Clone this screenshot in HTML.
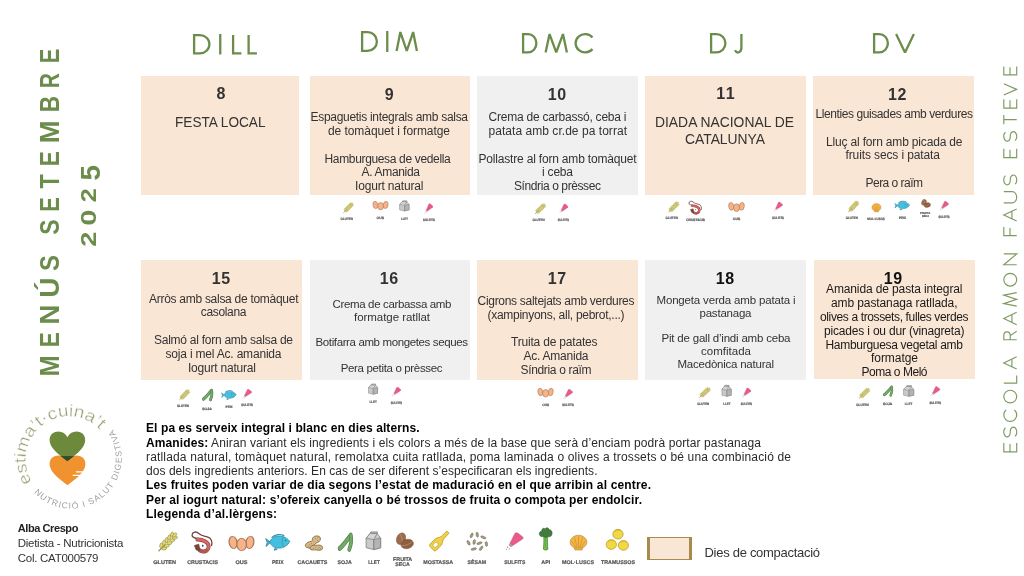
<!DOCTYPE html>
<html lang="ca"><head><meta charset="utf-8"><title>Menús setembre 2025</title>
<style>
html,body{margin:0;padding:0;background:#fff;}
body{width:1024px;height:576px;position:relative;overflow:hidden;font-family:'Liberation Sans', sans-serif;color:#333333;}
#pg{position:absolute;left:0;top:0;width:1024px;height:576px;opacity:0.999;}
.c{position:absolute;}
.t{position:absolute;white-space:nowrap;line-height:14px;font-size:12px;}
.t b{color:#000;}
.vl{position:absolute;left:0;top:0;white-space:nowrap;font-weight:bold;color:#6b8c4a;transform-origin:0 0;}
svg{position:absolute;left:0;top:0;}
</style></head><body><div id="pg">
<div class="c" style="left:141px;top:76px;width:158px;height:119px;background:#fae6d5"></div>
<div class="c" style="left:309.5px;top:76px;width:160.5px;height:119px;background:#fae6d5"></div>
<div class="c" style="left:477px;top:76px;width:160.5px;height:119px;background:#f0f0f0"></div>
<div class="c" style="left:645px;top:76px;width:160.5px;height:119px;background:#fae6d5"></div>
<div class="c" style="left:813px;top:76px;width:160.5px;height:119px;background:#fae6d5"></div>
<div class="c" style="left:141px;top:260px;width:161px;height:119.5px;background:#fae6d5"></div>
<div class="c" style="left:309.5px;top:260px;width:160.5px;height:119.5px;background:#f0f0f0"></div>
<div class="c" style="left:477px;top:260px;width:160.5px;height:119.5px;background:#fae6d5"></div>
<div class="c" style="left:645px;top:260px;width:160.5px;height:119.5px;background:#f0f0f0"></div>
<div class="c" style="left:813.5px;top:259.5px;width:161.0px;height:119.5px;background:#fae6d5"></div>
<div class="t" style="left:216.50px;top:87.46px;letter-spacing:0.594px;font-size:16px;font-weight:bold">8</div>
<div class="t" style="left:384.75px;top:87.76px;letter-spacing:0.594px;font-size:16px;font-weight:bold">9</div>
<div class="t" style="left:547.75px;top:87.76px;letter-spacing:0.703px;font-size:16px;font-weight:bold">10</div>
<div class="t" style="left:716.25px;top:87.46px;letter-spacing:1.578px;font-size:16px;font-weight:bold">11</div>
<div class="t" style="left:888.00px;top:87.76px;letter-spacing:0.703px;font-size:16px;font-weight:bold">12</div>
<div class="t" style="left:211.75px;top:271.96px;letter-spacing:0.703px;font-size:16px;font-weight:bold">15</div>
<div class="t" style="left:379.75px;top:271.96px;letter-spacing:0.703px;font-size:16px;font-weight:bold">16</div>
<div class="t" style="left:547.75px;top:271.96px;letter-spacing:0.703px;font-size:16px;font-weight:bold">17</div>
<div class="t" style="left:715.75px;top:271.96px;letter-spacing:0.703px;font-size:16px;font-weight:bold;color:#111">18</div>
<div class="t" style="left:883.75px;top:271.96px;letter-spacing:0.703px;font-size:16px;font-weight:bold;color:#111">19</div>
<div class="t" style="left:174.50px;top:115.13px;transform-origin:0 50%;transform:scaleX(0.8778);font-size:15.5px">FESTA LOCAL</div>
<div class="t" style="left:655.00px;top:114.63px;transform-origin:0 50%;transform:scaleX(0.8949);font-size:15.5px">DIADA NACIONAL DE</div>
<div class="t" style="left:685.00px;top:132.13px;transform-origin:0 50%;transform:scaleX(0.8931);font-size:15.5px">CATALUNYA</div>
<div class="t" style="left:310.50px;top:110.34px;letter-spacing:-0.296px">Espaguetis integrals amb salsa</div>
<div class="t" style="left:328.00px;top:124.09px;letter-spacing:-0.067px">de tomàquet i formatge</div>
<div class="t" style="left:324.50px;top:151.59px;letter-spacing:-0.342px">Hamburguesa de vedella</div>
<div class="t" style="left:361.50px;top:165.34px;letter-spacing:-0.319px">A. Amanida</div>
<div class="t" style="left:355.00px;top:179.09px;letter-spacing:-0.171px">Iogurt natural</div>
<div class="t" style="left:488.50px;top:110.34px;letter-spacing:-0.225px">Crema de carbassó, ceba i</div>
<div class="t" style="left:488.50px;top:124.09px;letter-spacing:0.043px">patata amb cr.de pa torrat</div>
<div class="t" style="left:478.50px;top:151.59px;letter-spacing:-0.187px">Pollastre al forn amb tomàquet</div>
<div class="t" style="left:542.00px;top:165.34px;letter-spacing:-0.206px">i ceba</div>
<div class="t" style="left:514.00px;top:179.09px;letter-spacing:-0.399px">Síndria o prèssec</div>
<div class="t" style="left:815.50px;top:106.84px;letter-spacing:-0.412px">Llenties guisades amb verdures</div>
<div class="t" style="left:826.00px;top:134.84px;letter-spacing:-0.171px">Lluç al forn amb picada de</div>
<div class="t" style="left:845.50px;top:148.34px;letter-spacing:-0.117px">fruits secs i patata</div>
<div class="t" style="left:865.50px;top:175.84px;letter-spacing:-0.520px">Pera o raïm</div>
<div class="t" style="left:149.00px;top:291.84px;letter-spacing:-0.279px">Arròs amb salsa de tomàquet</div>
<div class="t" style="left:200.75px;top:305.34px;letter-spacing:-0.328px">casolana</div>
<div class="t" style="left:154.00px;top:333.34px;letter-spacing:-0.256px">Salmó al forn amb salsa de</div>
<div class="t" style="left:165.50px;top:346.84px;letter-spacing:-0.193px">soja i mel Ac. amanida</div>
<div class="t" style="left:188.00px;top:360.84px;letter-spacing:-0.209px">Iogurt natural</div>
<div class="t" style="left:332.50px;top:297.02px;letter-spacing:-0.346px;font-size:11.5px">Crema de carbassa amb</div>
<div class="t" style="left:354.00px;top:309.77px;letter-spacing:-0.047px;font-size:11.5px">formatge ratllat</div>
<div class="t" style="left:315.50px;top:335.27px;letter-spacing:-0.376px;font-size:11.5px">Botifarra amb mongetes seques</div>
<div class="t" style="left:340.75px;top:360.77px;letter-spacing:-0.346px;font-size:11.5px">Pera petita o prèssec</div>
<div class="t" style="left:477.50px;top:293.84px;letter-spacing:-0.290px">Cigrons saltejats amb verdures</div>
<div class="t" style="left:487.50px;top:307.59px;letter-spacing:-0.276px">(xampinyons, all, pebrot,...)</div>
<div class="t" style="left:511.00px;top:335.34px;letter-spacing:-0.194px">Truita de patates</div>
<div class="t" style="left:523.50px;top:349.34px;letter-spacing:-0.237px">Ac. Amanida</div>
<div class="t" style="left:520.50px;top:363.34px;letter-spacing:-0.337px">Síndria o raïm</div>
<div class="t" style="left:656.50px;top:292.77px;letter-spacing:-0.168px;font-size:11.5px">Mongeta verda amb patata i</div>
<div class="t" style="left:699.50px;top:305.52px;letter-spacing:-0.215px;font-size:11.5px">pastanaga</div>
<div class="t" style="left:661.50px;top:331.02px;letter-spacing:-0.202px;font-size:11.5px">Pit de gall d’indi amb ceba</div>
<div class="t" style="left:701.00px;top:343.77px;letter-spacing:0.018px;font-size:11.5px">comfitada</div>
<div class="t" style="left:677.50px;top:356.52px;letter-spacing:-0.228px;font-size:11.5px">Macedònica natural</div>
<div class="t" style="left:826.00px;top:282.09px;letter-spacing:-0.122px;color:#1a1a1a">Amanida de pasta integral</div>
<div class="t" style="left:831.00px;top:296.34px;letter-spacing:-0.103px;color:#1a1a1a">amb pastanaga ratllada,</div>
<div class="t" style="left:820.00px;top:309.84px;letter-spacing:-0.373px;color:#1a1a1a">olives a trossets, fulles verdes</div>
<div class="t" style="left:824.00px;top:323.84px;letter-spacing:-0.182px;color:#1a1a1a">picades i ou dur (vinagreta)</div>
<div class="t" style="left:825.50px;top:337.84px;letter-spacing:-0.300px;color:#1a1a1a">Hamburguesa vegetal amb</div>
<div class="t" style="left:871.00px;top:350.84px;letter-spacing:-0.051px;color:#1a1a1a">formatge</div>
<div class="t" style="left:861.50px;top:365.34px;letter-spacing:-0.470px;color:#1a1a1a">Poma o Meló</div>
<div class="t" style="left:17.75px;top:520.59px;letter-spacing:-0.415px;font-size:11px;font-weight:bold;color:#222">Alba Crespo</div>
<div class="t" style="left:17.75px;top:535.92px;letter-spacing:-0.274px;font-size:11.5px;color:#333">Dietista - Nutricionista</div>
<div class="t" style="left:17.75px;top:550.72px;letter-spacing:-0.263px;font-size:11.5px;color:#333">Col. CAT000579</div>
<div class="t" style="left:704.50px;top:545.50px;letter-spacing:-0.287px;font-size:13px;color:#333">Dies de compactació</div>
<div class="t" style="left:146px;top:421.34px;letter-spacing:0.096px;color:#2a2a2a"><b>El pa es serveix integral i blanc en dies alterns.</b></div>
<div class="t" style="left:146px;top:435.54px;letter-spacing:0.109px;color:#2a2a2a"><b>Amanides:</b> Aniran variant els ingredients i els colors a més de la base que serà d’enciam podrà portar pastanaga</div>
<div class="t" style="left:146px;top:449.84px;letter-spacing:0.165px;color:#2a2a2a">ratllada natural, tomàquet natural, remolatxa cuita ratllada, poma laminada o olives a trossets o bé una combinació de</div>
<div class="t" style="left:146px;top:464.14px;letter-spacing:0.053px;color:#2a2a2a">dos dels ingredients anteriors. En cas de ser diferent s’especificaran els ingredients.</div>
<div class="t" style="left:146px;top:478.44px;letter-spacing:0.163px;color:#2a2a2a"><b>Les fruites poden variar de dia segons l’estat de maduració en el que arribin al centre.</b></div>
<div class="t" style="left:146px;top:492.84px;letter-spacing:0.129px;color:#2a2a2a"><b>Per al iogurt natural: s’ofereix canyella o bé trossos de fruita o compota per endolcir.</b></div>
<div class="t" style="left:146px;top:507.24px;letter-spacing:0.205px;color:#2a2a2a"><b>Llegenda d’al.lèrgens:</b></div>
<svg width="1024" height="576" viewBox="0 0 1024 576">
<defs><symbol id="i-gluten" viewBox="-3 -3 106 106" preserveAspectRatio="none" overflow="visible"><path d="M3,97 L36,64" stroke="#8f8a5a" stroke-width="7" stroke-linecap="round" fill="none"/><ellipse cx="16.0" cy="68.0" rx="14" ry="8" transform="rotate(-78 16.0 68.0)" fill="#e4da6c" stroke="#8c8646" stroke-width="3"/><ellipse cx="32.0" cy="84.0" rx="14" ry="8" transform="rotate(-12 32.0 84.0)" fill="#e4da6c" stroke="#8c8646" stroke-width="3"/><ellipse cx="30.5" cy="53.5" rx="14" ry="8" transform="rotate(-78 30.5 53.5)" fill="#e4da6c" stroke="#8c8646" stroke-width="3"/><ellipse cx="46.5" cy="69.5" rx="14" ry="8" transform="rotate(-12 46.5 69.5)" fill="#e4da6c" stroke="#8c8646" stroke-width="3"/><ellipse cx="45.0" cy="39.0" rx="14" ry="8" transform="rotate(-78 45.0 39.0)" fill="#e4da6c" stroke="#8c8646" stroke-width="3"/><ellipse cx="61.0" cy="55.0" rx="14" ry="8" transform="rotate(-12 61.0 55.0)" fill="#e4da6c" stroke="#8c8646" stroke-width="3"/><ellipse cx="59.5" cy="24.5" rx="14" ry="8" transform="rotate(-78 59.5 24.5)" fill="#e4da6c" stroke="#8c8646" stroke-width="3"/><ellipse cx="75.5" cy="40.5" rx="14" ry="8" transform="rotate(-12 75.5 40.5)" fill="#e4da6c" stroke="#8c8646" stroke-width="3"/><ellipse cx="74.0" cy="10.0" rx="14" ry="8" transform="rotate(-78 74.0 10.0)" fill="#e4da6c" stroke="#8c8646" stroke-width="3"/><ellipse cx="90.0" cy="26.0" rx="14" ry="8" transform="rotate(-12 90.0 26.0)" fill="#e4da6c" stroke="#8c8646" stroke-width="3"/><ellipse cx="88" cy="12" rx="14" ry="8" transform="rotate(-45 88 12)" fill="#e4da6c" stroke="#8c8646" stroke-width="3"/></symbol><symbol id="i-crustacis" viewBox="-3 -3 106 106" preserveAspectRatio="none" overflow="visible"><path d="M37,35 C20,32 0,30 2,17 C4,2 22,0 34,10 C46,20 60,22 78,27 C94,32 100,48 95,64" fill="none" stroke="#66423f" stroke-width="6" stroke-linecap="round"/>
<path d="M27,37 C50,36 83,48 81,70 C79,90 54,97 37,85" fill="none" stroke="#7d3f3f" stroke-width="18" stroke-linecap="round"/>
<path d="M27,37 C50,36 83,48 81,70 C79,90 54,97 37,85" fill="none" stroke="#de6361" stroke-width="12" stroke-linecap="round"/>
<path d="M72,84 C62,94 46,94 37,85" fill="none" stroke="#b3564a" stroke-width="12" stroke-linecap="round"/>
<path d="M13,64 L34,58 L40,86 L22,84 Z" fill="#7a4238" stroke="#6a3a34" stroke-width="3" stroke-linejoin="round"/>
<circle cx="53" cy="65" r="4" fill="#2f3b45"/></symbol><symbol id="i-ous" viewBox="-3 -3 106 106" preserveAspectRatio="none" overflow="visible"><g fill="#f8b288" stroke="#a47b55" stroke-width="5"><ellipse cx="17" cy="43" rx="15.5" ry="41" transform="rotate(-4 17 43)"/>
<ellipse cx="83" cy="43" rx="15.5" ry="41" transform="rotate(4 83 43)"/>
<ellipse cx="50.5" cy="57" rx="19" ry="41"/></g></symbol><symbol id="i-peix" viewBox="-3 -3 106 106" preserveAspectRatio="none" overflow="visible"><path d="M21,52 L1,30 L7,53 L2,77 Z" fill="#3fb4cf" stroke="#2f8a9e" stroke-width="4" stroke-linejoin="round"/>
<path d="M38,88 L36,99 L48,93 Z" fill="#3ba9cc" stroke="#2f8a9e" stroke-width="4" stroke-linejoin="round"/>
<path d="M18,52 C22,14 70,-6 99,46 C84,96 30,100 18,52 Z" fill="#43bfe0" stroke="#2f8a9e" stroke-width="4"/>
<path d="M27,22 C40,4 62,2 74,12" fill="none" stroke="#2f93ad" stroke-width="7" stroke-linecap="round"/>
<path d="M73,20 C66,38 66,60 73,78" fill="none" stroke="#2f8a9e" stroke-width="3"/>
<circle cx="82" cy="40" r="3.5" fill="#2c5f78"/></symbol><symbol id="i-cacauets" viewBox="-3 -3 106 106" preserveAspectRatio="none" overflow="visible"><g stroke="#80623a" stroke-width="5" fill="#d6b887"><path d="M78,4 C60,-4 40,8 42,26 C44,40 30,38 18,44 C2,52 -2,72 12,80 C30,90 48,72 54,58 C60,46 78,48 84,32 C88,20 86,8 78,4 Z"/>
<path d="M36,70 C50,58 62,66 72,64 C88,60 102,72 98,86 C94,100 76,100 64,96 C52,92 44,100 34,94 C24,88 26,78 36,70 Z"/></g>
<g fill="#80623a"><circle cx="72" cy="14" r="2.5"/><circle cx="20" cy="70" r="2.5"/><circle cx="48" cy="84" r="2.5"/><circle cx="72" cy="88" r="2.5"/><circle cx="88" cy="84" r="2.5"/><circle cx="60" cy="20" r="2.5"/><circle cx="70" cy="30" r="2.5"/><circle cx="28" cy="60" r="2.5"/><circle cx="38" cy="52" r="2.5"/><circle cx="60" cy="80" r="2.5"/><circle cx="80" cy="80" r="2.5"/><circle cx="50" cy="36" r="2.5"/></g></symbol><symbol id="i-soja" viewBox="-3 -3 106 106" preserveAspectRatio="none" overflow="visible"><path d="M12,82 C32,70 58,42 80,18" fill="none" stroke="#477a40" stroke-width="27" stroke-linecap="round"/>
<path d="M12,82 C32,70 58,42 80,18" fill="none" stroke="#72a866" stroke-width="20" stroke-linecap="round"/>
<path d="M86,10 C92,32 88,64 76,88" fill="none" stroke="#477a40" stroke-width="25" stroke-linecap="round"/>
<path d="M86,10 C92,32 88,64 76,88" fill="none" stroke="#72a866" stroke-width="18" stroke-linecap="round"/></symbol><symbol id="i-llet" viewBox="-3 -3 106 106" preserveAspectRatio="none" overflow="visible"><g stroke="#858585" stroke-width="5" stroke-linejoin="round"><path d="M4,36 L30,10 L74,10 L96,36 L96,88 L52,98 L4,88 Z" fill="#c9c9c9"/>
<path d="M52,44 L96,36 L96,88 L52,98 Z" fill="#b4b4b4"/><path d="M4,36 L52,44 L74,10 L30,10 Z" fill="#d6d6d6"/>
<path d="M30,10 L34,2 L76,2 L74,10 Z" fill="#bdbdbd"/><path d="M52,44 L52,98" fill="none"/></g></symbol><symbol id="i-fruita" viewBox="-3 -3 106 106" preserveAspectRatio="none" overflow="visible"><ellipse cx="30" cy="36" rx="24" ry="36" transform="rotate(18 30 36)" fill="#9a6a49" stroke="#7b5238" stroke-width="3"/>
<path d="M24,8 C40,30 40,50 30,68" fill="none" stroke="#c79a78" stroke-width="4" stroke-linecap="round"/>
<ellipse cx="64" cy="68" rx="35" ry="28" transform="rotate(-18 64 68)" fill="#8d5d3f" stroke="#7b5238" stroke-width="3"/>
<path d="M36,78 C55,80 80,70 94,52" fill="none" stroke="#c79a78" stroke-width="4" stroke-linecap="round"/></symbol><symbol id="i-mostassa" viewBox="-3 -3 106 106" preserveAspectRatio="none" overflow="visible"><g transform="rotate(45 50 50)" stroke="#b79a2c" stroke-width="4" stroke-linejoin="round"><path d="M27,94 Q27,103 36,103 L64,103 Q73,103 73,94 L73,58 C73,44 60,38 59,22 L58,-17 L42,-17 L41,22 C40,38 27,44 27,58 Z" fill="#f3cf40"/>
<ellipse cx="50" cy="76" rx="11" ry="15" fill="#fff" stroke-width="3"/></g></symbol><symbol id="i-sesam" viewBox="-3 -3 106 106" preserveAspectRatio="none" overflow="visible"><ellipse cx="24" cy="20" rx="5.5" ry="13" transform="rotate(20 24 20)" fill="#a59b82" stroke="#6f6756" stroke-width="2.5"/><ellipse cx="50" cy="16" rx="5.5" ry="13" transform="rotate(-8 50 16)" fill="#a59b82" stroke="#6f6756" stroke-width="2.5"/><ellipse cx="78" cy="30" rx="5.5" ry="13" transform="rotate(-65 78 30)" fill="#a59b82" stroke="#6f6756" stroke-width="2.5"/><ellipse cx="10" cy="58" rx="5.5" ry="13" transform="rotate(-25 10 58)" fill="#a59b82" stroke="#6f6756" stroke-width="2.5"/><ellipse cx="36" cy="54" rx="5.5" ry="13" transform="rotate(10 36 54)" fill="#a59b82" stroke="#6f6756" stroke-width="2.5"/><ellipse cx="60" cy="60" rx="5.5" ry="13" transform="rotate(70 60 60)" fill="#a59b82" stroke="#6f6756" stroke-width="2.5"/><ellipse cx="92" cy="64" rx="5.5" ry="13" transform="rotate(-5 92 64)" fill="#a59b82" stroke="#6f6756" stroke-width="2.5"/><ellipse cx="34" cy="90" rx="5.5" ry="13" transform="rotate(75 34 90)" fill="#a59b82" stroke="#6f6756" stroke-width="2.5"/><ellipse cx="68" cy="86" rx="5.5" ry="13" transform="rotate(30 68 86)" fill="#a59b82" stroke="#6f6756" stroke-width="2.5"/></symbol><symbol id="i-sulfits" viewBox="-3 -3 106 106" preserveAspectRatio="none" overflow="visible"><path d="M52,4 C58,-2 66,0 72,4 L96,24 C100,28 100,34 96,38 L40,76 L24,64 Z" fill="#e8598a" stroke="#c04a74" stroke-width="3" stroke-linejoin="round"/>
<path d="M24,64 L40,76 L30,84 L18,74 Z" fill="#bd93a4" stroke="#9c7184" stroke-width="2.5" stroke-linejoin="round"/>
<circle cx="10" cy="86" r="4" fill="#ad7a90"/><circle cx="20" cy="96" r="3.5" fill="#ad7a90"/><circle cx="4" cy="98" r="3" fill="#ad7a90"/></symbol><symbol id="i-api" viewBox="-3 -3 106 106" preserveAspectRatio="none" overflow="visible"><path d="M36,36 C40,60 36,80 34,96 C44,101 58,101 66,96 C64,78 62,58 66,36 Z" fill="#74c14c" stroke="#3f7d2e" stroke-width="4" stroke-linejoin="round"/>
<path d="M50,44 L50,92" stroke="#4e9a38" stroke-width="3" fill="none"/>
<path d="M36,38 C20,44 4,36 4,26 C6,16 18,18 22,14 C24,2 38,0 46,6 C56,-4 72,0 76,10 C88,8 100,18 96,28 C94,38 78,44 66,38 C58,46 44,46 36,38 Z" fill="#3f7a3c" stroke="#2f5e2c" stroke-width="3" stroke-linejoin="round"/></symbol><symbol id="i-mol" viewBox="-3 -3 106 106" preserveAspectRatio="none" overflow="visible"><path d="M30,98 L26,82 C4,74 -2,46 8,28 C20,6 40,2 50,2 C60,2 80,6 92,28 C102,46 96,74 74,82 L70,98 Z" fill="#f5b644" stroke="#b07a2a" stroke-width="3.5" stroke-linejoin="round"/>
<g fill="none" stroke="#c98a2c" stroke-width="4" stroke-linecap="round"><path d="M50,80 L50,12"/><path d="M42,80 L28,18"/><path d="M58,80 L72,18"/><path d="M36,82 L12,38"/><path d="M64,82 L88,38"/></g>
<path d="M26,82 C40,88 60,88 74,82" fill="none" stroke="#b9802a" stroke-width="3"/></symbol><symbol id="i-tram" viewBox="-3 -3 106 106" preserveAspectRatio="none" overflow="visible"><g fill="#f2d83f" stroke="#b59c2c" stroke-width="3.5"><circle cx="52.5" cy="24" r="22"/><circle cx="24" cy="71" r="22"/><circle cx="75.5" cy="75" r="22"/></g>
<g fill="none" stroke="#c9ad30" stroke-width="3" stroke-linecap="round"><path d="M40,12 C46,6 56,5 62,8"/><path d="M12,58 C18,52 28,51 34,54"/><path d="M64,62 C70,56 80,55 86,58"/></g></symbol></defs>
<g fill="none" stroke="#6b8c4a" stroke-width="2.3" stroke-linejoin="miter" stroke-linecap="butt">
<path d="M0,0 V1 H.30 A.5,.5 0 0 0 .30,0 Z" transform="translate(194.10,35.10) scale(19.125,18.300)" vector-effect="non-scaling-stroke"/>
<path d="M0,0 V1" transform="translate(220.25,34.00) scale(1.000,20.500)" vector-effect="non-scaling-stroke"/>
<path d="M0,0 V1 H.47" transform="translate(233.10,35.10) scale(17.660,18.300)" vector-effect="non-scaling-stroke"/>
<path d="M0,0 V1 H.47" transform="translate(248.60,35.10) scale(17.660,18.300)" vector-effect="non-scaling-stroke"/>
<path d="M0,0 V1 H.30 A.5,.5 0 0 0 .30,0 Z" transform="translate(362.10,32.10) scale(18.500,18.800)" vector-effect="non-scaling-stroke"/>
<path d="M0,0 V1" transform="translate(387.25,31.00) scale(1.000,21.000)" vector-effect="non-scaling-stroke"/>
<path d="M0,1 L.2,0 L.54,1 L.88,0 L1.08,1" transform="translate(396.60,32.10) scale(18.796,18.800)" vector-effect="non-scaling-stroke" stroke-linejoin="bevel"/>
<path d="M0,0 V1 H.30 A.5,.5 0 0 0 .30,0 Z" transform="translate(523.10,34.10) scale(16.625,18.300)" vector-effect="non-scaling-stroke"/>
<path d="M0,1 L.2,0 L.54,1 L.88,0 L1.08,1" transform="translate(545.60,34.10) scale(19.722,18.300)" vector-effect="non-scaling-stroke" stroke-linejoin="bevel"/>
<path d="M.883,.179 A.5,.5 0 1 0 .883,.821" transform="translate(575.60,34.10) scale(19.140,18.300)" vector-effect="non-scaling-stroke"/>
<path d="M0,0 V1 H.30 A.5,.5 0 0 0 .30,0 Z" transform="translate(711.10,34.10) scale(17.875,18.300)" vector-effect="non-scaling-stroke"/>
<path d="M.45,0 V.75 A.225,.25 0 0 1 .03,.875" transform="translate(734.60,34.10) scale(15.111,18.300)" vector-effect="non-scaling-stroke"/>
<path d="M0,0 V1 H.30 A.5,.5 0 0 0 .30,0 Z" transform="translate(874.10,34.10) scale(17.250,18.300)" vector-effect="non-scaling-stroke"/>
<path d="M0,0 L.475,1 L.95,0" transform="translate(896.10,34.10) scale(18.737,18.300)" vector-effect="non-scaling-stroke" stroke-linejoin="bevel"/>
</g>
<g fill="none" stroke="#6b8c4a" stroke-width="1.15" stroke-linejoin="miter" stroke-opacity="0.88">
<path d="M.5,0 H0 V1 H.5 M0,.48 H.45" transform="translate(1003.80,74.80) rotate(-90) scale(16.800,12.900)" vector-effect="non-scaling-stroke"/>
<path d="M0,0 L.475,1 L.95,0" transform="translate(1003.80,95.00) rotate(-90) scale(11.895,12.900)" vector-effect="non-scaling-stroke"/>
<path d="M.5,0 H0 V1 H.5 M0,.48 H.45" transform="translate(1003.80,108.15) rotate(-90) scale(17.600,12.900)" vector-effect="non-scaling-stroke"/>
<path d="M0,0 H.55 M.275,0 V1" transform="translate(1003.80,124.20) rotate(-90) scale(16.727,12.900)" vector-effect="non-scaling-stroke"/>
<path d="M.4665,.125 A.25,.25 0 1 0 .25,.5 A.25,.25 0 1 1 .0335,.875" transform="translate(1003.80,141.15) rotate(-90) scale(19.100,12.900)" vector-effect="non-scaling-stroke"/>
<path d="M.5,0 H0 V1 H.5 M0,.48 H.45" transform="translate(1003.80,157.60) rotate(-90) scale(17.600,12.900)" vector-effect="non-scaling-stroke"/>
<path d="M.4665,.125 A.25,.25 0 1 0 .25,.5 A.25,.25 0 1 1 .0335,.875" transform="translate(1003.80,184.80) rotate(-90) scale(19.600,12.900)" vector-effect="non-scaling-stroke"/>
<path d="M0,0 V.65 A.35,.35 0 0 0 .7,.65 V0" transform="translate(1003.80,202.90) rotate(-90) scale(16.143,12.900)" vector-effect="non-scaling-stroke"/>
<path d="M0,1 L.45,0 L.9,1 M.17,.63 H.73" transform="translate(1003.80,221.10) rotate(-90) scale(13.556,12.900)" vector-effect="non-scaling-stroke"/>
<path d="M.45,0 H0 V1 M0,.48 H.4" transform="translate(1003.80,235.65) rotate(-90) scale(19.000,12.900)" vector-effect="non-scaling-stroke"/>
<path d="M0,1 V0 L.75,1 V0" transform="translate(1003.80,264.80) rotate(-90) scale(14.533,12.900)" vector-effect="non-scaling-stroke"/>
<path d="M.5,0 A.5,.5 0 1 0 .5,1 A.5,.5 0 1 0 .5,0" transform="translate(1003.80,286.10) rotate(-90) scale(12.800,12.900)" vector-effect="non-scaling-stroke"/>
<path d="M0,1 L.2,0 L.54,1 L.88,0 L1.08,1" transform="translate(1003.80,306.10) rotate(-90) scale(12.500,12.900)" vector-effect="non-scaling-stroke"/>
<path d="M0,1 L.45,0 L.9,1 M.17,.63 H.73" transform="translate(1003.80,324.80) rotate(-90) scale(13.889,12.900)" vector-effect="non-scaling-stroke"/>
<path d="M0,1 V0 H.28 A.25,.25 0 0 1 .28,.5 H0 M.28,.5 L.58,1" transform="translate(1003.80,339.80) rotate(-90) scale(14.909,12.900)" vector-effect="non-scaling-stroke"/>
<path d="M0,1 L.45,0 L.9,1 M.17,.63 H.73" transform="translate(1003.80,369.00) rotate(-90) scale(13.500,12.900)" vector-effect="non-scaling-stroke"/>
<path d="M0,0 V1 H.47" transform="translate(1003.80,383.15) rotate(-90) scale(16.064,12.900)" vector-effect="non-scaling-stroke"/>
<path d="M.5,0 A.5,.5 0 1 0 .5,1 A.5,.5 0 1 0 .5,0" transform="translate(1003.80,402.90) rotate(-90) scale(12.700,12.900)" vector-effect="non-scaling-stroke"/>
<path d="M.883,.179 A.5,.5 0 1 0 .883,.821" transform="translate(1003.80,421.30) rotate(-90) scale(12.849,12.900)" vector-effect="non-scaling-stroke"/>
<path d="M.4665,.125 A.25,.25 0 1 0 .25,.5 A.25,.25 0 1 1 .0335,.875" transform="translate(1003.80,436.90) rotate(-90) scale(19.600,12.900)" vector-effect="non-scaling-stroke"/>
<path d="M.5,0 H0 V1 H.5 M0,.48 H.45" transform="translate(1003.80,451.90) rotate(-90) scale(17.600,12.900)" vector-effect="non-scaling-stroke"/>
</g>
<g font-family="Liberation Sans, sans-serif" font-weight="bold" fill="#525252" stroke="#525252" stroke-width="0.2" opacity="0.99" text-rendering="geometricPrecision">
<use href="#i-gluten" x="157.75" y="532.25" width="19.65" height="19.75"/>
<text x="153.25" y="564.00" font-size="5.4" textLength="22.75" lengthAdjust="spacingAndGlyphs">GLUTEN</text>
<use href="#i-crustacis" x="191.00" y="530.50" width="22.25" height="23.75"/>
<text x="187.25" y="564.00" font-size="5.4" textLength="30.75" lengthAdjust="spacingAndGlyphs">CRUSTACIS</text>
<use href="#i-ous" x="228.00" y="535.50" width="27.00" height="16.00"/>
<text x="235.50" y="564.00" font-size="5.4" textLength="12.00" lengthAdjust="spacingAndGlyphs">OUS</text>
<use href="#i-peix" x="264.75" y="533.00" width="26.00" height="18.00"/>
<text x="272.00" y="564.00" font-size="5.4" textLength="11.50" lengthAdjust="spacingAndGlyphs">PEIX</text>
<use href="#i-cacauets" x="304.25" y="535.25" width="19.25" height="15.75"/>
<text x="297.50" y="564.00" font-size="5.4" textLength="29.75" lengthAdjust="spacingAndGlyphs">CACAUETS</text>
<use href="#i-soja" x="337.50" y="532.50" width="15.75" height="19.75"/>
<text x="337.50" y="564.00" font-size="5.4" textLength="14.25" lengthAdjust="spacingAndGlyphs">SOJA</text>
<use href="#i-llet" x="365.00" y="531.00" width="16.75" height="19.50"/>
<text x="368.25" y="564.00" font-size="5.4" textLength="11.50" lengthAdjust="spacingAndGlyphs">LLET</text>
<use href="#i-fruita" x="395.00" y="532.25" width="19.25" height="17.50"/>
<text x="393.00" y="560.50" font-size="5.4" textLength="19.25" lengthAdjust="spacingAndGlyphs">FRUITA</text>
<text x="395.25" y="566.25" font-size="5.4" textLength="14.50" lengthAdjust="spacingAndGlyphs">SECA</text>
<use href="#i-mostassa" x="429.00" y="531.00" width="20.00" height="20.50"/>
<text x="423.25" y="564.00" font-size="5.4" textLength="30.00" lengthAdjust="spacingAndGlyphs">MOSTASSA</text>
<use href="#i-sesam" x="465.75" y="531.00" width="23.00" height="20.50"/>
<text x="467.50" y="564.00" font-size="5.4" textLength="18.50" lengthAdjust="spacingAndGlyphs">SÈSAM</text>
<use href="#i-sulfits" x="505.25" y="532.25" width="18.50" height="17.75"/>
<text x="504.25" y="564.00" font-size="5.4" textLength="21.00" lengthAdjust="spacingAndGlyphs">SULFITS</text>
<use href="#i-api" x="538.25" y="527.00" width="14.75" height="23.75"/>
<text x="541.25" y="564.00" font-size="5.4" textLength="9.00" lengthAdjust="spacingAndGlyphs">API</text>
<use href="#i-mol" x="569.00" y="534.50" width="19.00" height="16.25"/>
<text x="562.00" y="564.00" font-size="5.4" textLength="32.00" lengthAdjust="spacingAndGlyphs">MOL·LUSCS</text>
<use href="#i-tram" x="605.00" y="528.25" width="24.75" height="23.25"/>
<text x="601.00" y="564.00" font-size="5.4" textLength="34.00" lengthAdjust="spacingAndGlyphs">TRAMUSSOS</text>
<use href="#i-gluten" x="343.10" y="202.60" width="10.30" height="10.40"/>
<text x="340.60" y="219.80" font-size="3.4" textLength="12.40" lengthAdjust="spacingAndGlyphs">GLUTEN</text>
<use href="#i-ous" x="372.30" y="200.90" width="16.45" height="9.35"/>
<text x="376.50" y="218.70" font-size="3.4" textLength="7.50" lengthAdjust="spacingAndGlyphs">OUS</text>
<use href="#i-llet" x="398.90" y="200.25" width="10.90" height="11.25"/>
<text x="401.00" y="220.25" font-size="3.4" textLength="6.80" lengthAdjust="spacingAndGlyphs">LLET</text>
<use href="#i-sulfits" x="424.00" y="203.40" width="9.30" height="10.10"/>
<text x="423.00" y="220.90" font-size="3.4" textLength="11.80" lengthAdjust="spacingAndGlyphs">SULFITS</text>
<use href="#i-gluten" x="534.70" y="203.70" width="10.90" height="10.60"/>
<text x="532.50" y="220.90" font-size="3.4" textLength="12.20" lengthAdjust="spacingAndGlyphs">GLUTEN</text>
<use href="#i-sulfits" x="559.00" y="203.70" width="9.40" height="9.70"/>
<text x="557.80" y="220.60" font-size="3.4" textLength="11.20" lengthAdjust="spacingAndGlyphs">SULFITS</text>
<use href="#i-gluten" x="668.00" y="201.80" width="11.00" height="10.95"/>
<text x="665.60" y="219.30" font-size="3.4" textLength="12.20" lengthAdjust="spacingAndGlyphs">GLUTEN</text>
<use href="#i-crustacis" x="688.30" y="200.25" width="14.00" height="14.75"/>
<text x="686.25" y="220.90" font-size="3.4" textLength="18.75" lengthAdjust="spacingAndGlyphs">CRUSTACIS</text>
<use href="#i-ous" x="728.00" y="202.00" width="17.00" height="10.00"/>
<text x="732.80" y="219.90" font-size="3.4" textLength="7.50" lengthAdjust="spacingAndGlyphs">OUS</text>
<use href="#i-sulfits" x="773.40" y="201.80" width="9.60" height="9.70"/>
<text x="772.30" y="219.00" font-size="3.4" textLength="11.70" lengthAdjust="spacingAndGlyphs">SULFITS</text>
<use href="#i-gluten" x="848.00" y="201.00" width="10.75" height="11.40"/>
<text x="845.80" y="218.70" font-size="3.4" textLength="12.00" lengthAdjust="spacingAndGlyphs">GLUTEN</text>
<use href="#i-mol" x="871.25" y="203.00" width="10.45" height="9.40"/>
<text x="867.20" y="219.50" font-size="3.4" textLength="17.60" lengthAdjust="spacingAndGlyphs">MOL·LUSCS</text>
<use href="#i-peix" x="894.20" y="200.25" width="16.10" height="10.15"/>
<text x="898.90" y="218.70" font-size="3.4" textLength="7.10" lengthAdjust="spacingAndGlyphs">PEIX</text>
<use href="#i-fruita" x="920.80" y="199.00" width="10.20" height="9.00"/>
<text x="920.00" y="213.90" font-size="2.9" textLength="10.20" lengthAdjust="spacingAndGlyphs">FRUITA</text>
<text x="922.00" y="217.20" font-size="2.9" textLength="7.00" lengthAdjust="spacingAndGlyphs">SECA</text>
<use href="#i-sulfits" x="939.50" y="201.00" width="9.50" height="9.40"/>
<text x="938.40" y="218.20" font-size="3.4" textLength="11.30" lengthAdjust="spacingAndGlyphs">SULFITS</text>
<use href="#i-gluten" x="179.00" y="389.70" width="10.70" height="10.60"/>
<text x="176.90" y="406.90" font-size="3.4" textLength="12.10" lengthAdjust="spacingAndGlyphs">GLUTEN</text>
<use href="#i-soja" x="201.90" y="388.60" width="11.50" height="13.00"/>
<text x="202.20" y="410.20" font-size="3.4" textLength="9.70" lengthAdjust="spacingAndGlyphs">SOJA</text>
<use href="#i-peix" x="220.90" y="389.70" width="16.00" height="10.30"/>
<text x="225.60" y="408.40" font-size="3.4" textLength="7.10" lengthAdjust="spacingAndGlyphs">PEIX</text>
<use href="#i-sulfits" x="242.00" y="389.00" width="10.20" height="9.75"/>
<text x="241.25" y="406.25" font-size="3.4" textLength="11.75" lengthAdjust="spacingAndGlyphs">SULFITS</text>
<use href="#i-llet" x="367.80" y="383.40" width="10.50" height="11.40"/>
<text x="369.40" y="403.10" font-size="3.4" textLength="7.30" lengthAdjust="spacingAndGlyphs">LLET</text>
<use href="#i-sulfits" x="391.60" y="387.00" width="9.65" height="9.40"/>
<text x="390.80" y="403.90" font-size="3.4" textLength="11.40" lengthAdjust="spacingAndGlyphs">SULFITS</text>
<use href="#i-ous" x="537.20" y="387.80" width="16.70" height="9.70"/>
<text x="542.20" y="405.80" font-size="3.4" textLength="7.00" lengthAdjust="spacingAndGlyphs">OUS</text>
<use href="#i-sulfits" x="563.00" y="389.00" width="10.10" height="10.00"/>
<text x="562.20" y="406.25" font-size="3.4" textLength="11.55" lengthAdjust="spacingAndGlyphs">SULFITS</text>
<use href="#i-gluten" x="699.00" y="387.50" width="11.30" height="10.50"/>
<text x="697.20" y="404.70" font-size="3.4" textLength="12.00" lengthAdjust="spacingAndGlyphs">GLUTEN</text>
<use href="#i-llet" x="721.25" y="384.70" width="10.65" height="12.20"/>
<text x="723.30" y="405.30" font-size="3.4" textLength="7.30" lengthAdjust="spacingAndGlyphs">LLET</text>
<use href="#i-sulfits" x="741.60" y="387.80" width="9.80" height="9.70"/>
<text x="740.80" y="405.00" font-size="3.4" textLength="11.40" lengthAdjust="spacingAndGlyphs">SULFITS</text>
<use href="#i-gluten" x="858.75" y="388.10" width="10.95" height="10.65"/>
<text x="856.25" y="405.60" font-size="3.4" textLength="12.50" lengthAdjust="spacingAndGlyphs">GLUTEN</text>
<use href="#i-soja" x="882.80" y="385.50" width="10.60" height="11.40"/>
<text x="883.00" y="404.70" font-size="3.4" textLength="9.20" lengthAdjust="spacingAndGlyphs">SOJA</text>
<use href="#i-llet" x="902.80" y="385.00" width="11.70" height="11.90"/>
<text x="904.80" y="405.30" font-size="3.4" textLength="7.40" lengthAdjust="spacingAndGlyphs">LLET</text>
<use href="#i-sulfits" x="930.20" y="386.25" width="10.10" height="10.15"/>
<text x="929.40" y="403.75" font-size="3.4" textLength="11.70" lengthAdjust="spacingAndGlyphs">SULFITS</text>
</g>
<defs><path id="arc1" d="M32.08,481.73 A43.0,43.0 0 0 1 99.74,429.44"/><path id="arc2" d="M33.99,492.51 A50.6,50.6 0 0 0 112.95,429.70"/>
<clipPath id="hc"><path d="M50,84 C20,62 0,44 0,24 C0,8 12,0 25,0 C36,0 45,6 50,16 C55,6 64,0 75,0 C88,0 100,8 100,24 C100,44 80,62 50,84 Z" transform="translate(49.6,431.5) scale(0.3560,0.3536)" fill="#000"/></clipPath></defs>
<path d="M50,84 C20,62 0,44 0,24 C0,8 12,0 25,0 C36,0 45,6 50,16 C55,6 64,0 75,0 C88,0 100,8 100,24 C100,44 80,62 50,84 Z" transform="translate(49.6,455.6) scale(0.3580,0.3536)" fill="#f0932f"/>
<path d="M50,84 C20,62 0,44 0,24 C0,8 12,0 25,0 C36,0 45,6 50,16 C55,6 64,0 75,0 C88,0 100,8 100,24 C100,44 80,62 50,84 Z" transform="translate(49.6,431.5) scale(0.3560,0.3536)" fill="#6d8a3c"/>
<g clip-path="url(#hc)"><rect x="49" y="456.1" width="37" height="6" fill="#2f4a2c"/></g>
<path d="M76,471.9 H84 M72.7,475.4 H80.6" stroke="#fff" stroke-width="1.1" fill="none"/>
<text font-family="Liberation Sans, sans-serif" font-size="16.5" fill="#97a272" stroke="#fff" stroke-width="0.3"><textPath href="#arc1" textLength="125.9" lengthAdjust="spacingAndGlyphs">estima’t·cuina’t</textPath></text>
<text font-family="Liberation Sans, sans-serif" font-size="8.6" fill="#a0a0a0"><textPath href="#arc2" textLength="151.0" lengthAdjust="spacing">NUTRICIÓ I SALUT DIGESTIVA</textPath></text>
</svg>
<div class="vt"><span class="vl" style="font-size:28.1px;line-height:28.1px;transform:translate(36.12px,376.54px) rotate(-90deg) scale(0.912,1.006)">M</span><span class="vl" style="font-size:28.1px;line-height:28.1px;transform:translate(36.12px,347.26px) rotate(-90deg) scale(0.805,1.006)">E</span><span class="vl" style="font-size:28.1px;line-height:28.1px;transform:translate(36.12px,324.45px) rotate(-90deg) scale(0.982,1.006)">N</span><span class="vl" style="font-size:28.1px;line-height:28.1px;transform:translate(36.12px,297.67px) rotate(-90deg) scale(0.992,1.006)">Ú</span><span class="vl" style="font-size:28.1px;line-height:28.1px;transform:translate(36.12px,270.98px) rotate(-90deg) scale(0.852,1.006)">S</span> <span class="vl" style="font-size:28.1px;line-height:28.1px;transform:translate(36.12px,234.66px) rotate(-90deg) scale(0.817,1.006)">S</span><span class="vl" style="font-size:28.1px;line-height:28.1px;transform:translate(36.12px,211.72px) rotate(-90deg) scale(0.780,1.006)">E</span><span class="vl" style="font-size:28.1px;line-height:28.1px;transform:translate(36.12px,188.53px) rotate(-90deg) scale(0.824,1.006)">T</span><span class="vl" style="font-size:28.1px;line-height:28.1px;transform:translate(36.12px,166.36px) rotate(-90deg) scale(0.805,1.006)">E</span><span class="vl" style="font-size:28.1px;line-height:28.1px;transform:translate(36.12px,143.34px) rotate(-90deg) scale(0.972,1.006)">M</span><span class="vl" style="font-size:28.1px;line-height:28.1px;transform:translate(36.12px,112.16px) rotate(-90deg) scale(0.809,1.006)">B</span><span class="vl" style="font-size:28.1px;line-height:28.1px;transform:translate(36.12px,88.16px) rotate(-90deg) scale(0.745,1.006)">R</span><span class="vl" style="font-size:28.1px;line-height:28.1px;transform:translate(36.12px,63.22px) rotate(-90deg) scale(0.780,1.006)">E</span></div>
<div class="vt"><span class="vl" style="font-size:22.5px;line-height:22.5px;transform:translate(78.16px,246.72px) rotate(-90deg) scale(1.215,1.005)">2</span><span class="vl" style="font-size:22.5px;line-height:22.5px;transform:translate(78.16px,225.77px) rotate(-90deg) scale(1.288,1.005)">0</span><span class="vl" style="font-size:22.5px;line-height:22.5px;transform:translate(78.16px,202.36px) rotate(-90deg) scale(1.125,1.005)">2</span><span class="vl" style="font-size:22.5px;line-height:22.5px;transform:translate(78.29px,180.43px) rotate(-90deg) scale(1.236,1.211)">5</span></div>
<div class="c" style="left:646.5px;top:536.5px;width:39px;height:21px;background:#fae6d5;border-style:solid;border-color:#a98a4d;border-width:1.2px 3.6px 1.5px 3.8px"></div>
</div></body></html>
